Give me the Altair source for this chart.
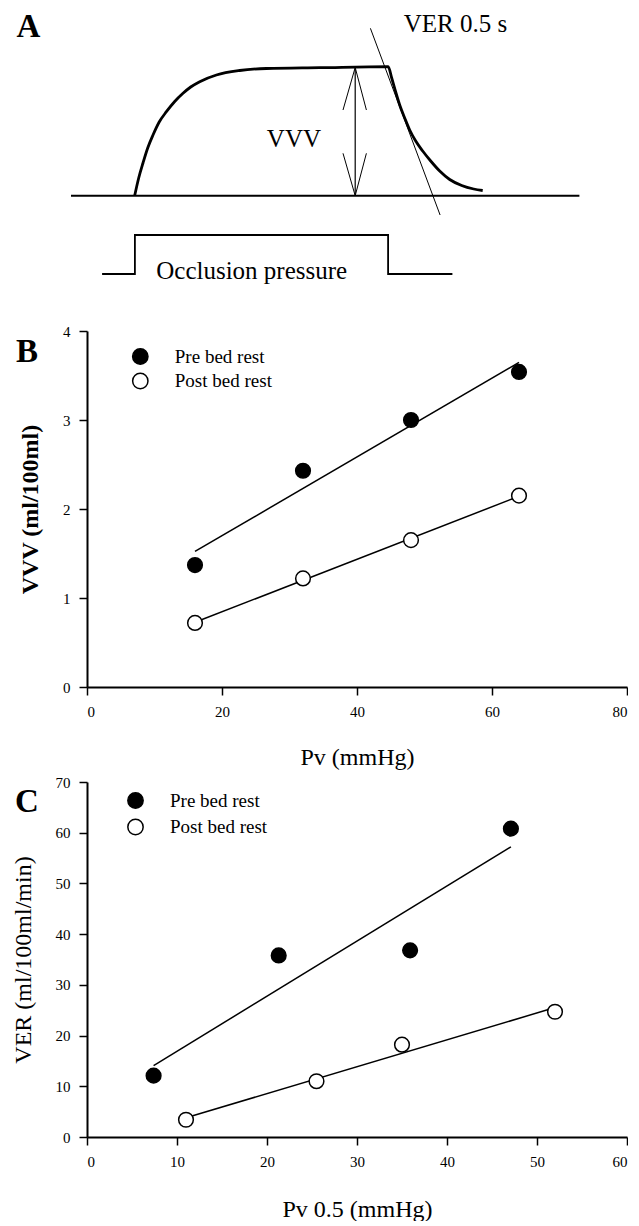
import altair as alt
import pandas as pd

FONT = "Liberation Serif"

# ---------------- Panel B data ----------------
b_pv = [16, 32, 48, 64]
b_pre = [1.37, 2.43, 3.00, 3.54]
b_post = [0.72, 1.22, 1.65, 2.15]
b_xticks = [0, 20, 40, 60, 80]
b_yticks = [0, 1, 2, 3, 4]

# ---------------- Panel C data ----------------
c_pre_x = [7.4, 21.3, 35.9, 47.1]
c_pre_y = [12.1, 35.8, 36.8, 60.8]
c_post_x = [11.0, 25.5, 35.0, 52.0]
c_post_y = [3.4, 11.0, 18.2, 24.7]
c_xticks = [0, 10, 20, 30, 40, 50, 60]
c_yticks = [0, 10, 20, 30, 40, 50, 60, 70]

series = ["Pre bed rest", "Post bed rest"]
letters = ["A", "B", "C"]

# ---------------- Panel A schematic (shape points) ----------------
base_x = [71.3, 579.7]
base_y = [195.7, 195.7]
curve_x = [135, 139, 143.3, 148, 153.3, 159.5, 166.7, 175, 183.3, 191, 200, 216.7, 240, 266.7, 320, 388.5,
           392, 396, 400, 405, 410, 416, 423, 431, 440, 450, 462, 474, 483]
curve_y = [195.5, 178, 163, 148, 135, 122, 111.7, 101.5, 93.3, 87, 81.7, 75, 70.5, 68.5, 67.7, 66.7,
           78, 92, 105, 118, 130, 141, 151, 161, 171, 179.5, 185.5, 189, 190.5]
shaft_x = [355.5, 355.5]
shaft_y = [67.5, 195.7]
head1_x = [343.3, 355.5, 366.7]
head1_y = [110, 67.5, 110]
head2_x = [343.3, 355.5, 366.7]
head2_y = [153.3, 195.7, 153.3]
tan_x = [370.7, 440.4]
tan_y = [28.3, 215]
step_x = [102.4, 135.2, 135.2, 388.4, 388.4, 452.7]
step_y = [274, 274, 235, 235, 274, 274]

a_labels = ["VVV", "VER 0.5 s", "Occlusion pressure"]
a_label_x = [294.2, 455.8, 252]
a_label_y = [146.7, 31.7, 279]

# ---------------- build tables ----------------
def seg_rows(name, xs, ys, w):
    return [{"seg": name, "ord": i, "x": x, "y": y, "w": w} for i, (x, y) in enumerate(zip(xs, ys))]

rows = []
rows += seg_rows("base", base_x, base_y, 2)
rows += seg_rows("shaft", shaft_x, shaft_y, 1.2)
rows += seg_rows("head1", head1_x, head1_y, 1)
rows += seg_rows("head2", head2_x, head2_y, 1)
rows += seg_rows("tangent", tan_x, tan_y, 1)
rows += seg_rows("step", step_x, step_y, 1.8)
a_lines = pd.DataFrame(rows)
a_curve = pd.DataFrame(seg_rows("curve", curve_x, curve_y, 2.8))
a_text = pd.DataFrame({"t": a_labels, "x": a_label_x, "y": a_label_y})

A_TOP = 8
A_H = 310
ax_scale = alt.Scale(domain=[87.3, 627.3], nice=False, zero=False)
ay_scale = alt.Scale(domain=[A_TOP, A_TOP + A_H], nice=False, zero=False, reverse=True)

a_base = alt.Chart(a_lines).mark_line(color="black").encode(
    x=alt.X("x:Q", scale=ax_scale, axis=None),
    y=alt.Y("y:Q", scale=ay_scale, axis=None),
    detail="seg:N",
    order="ord:Q",
    strokeWidth=alt.StrokeWidth("w:Q", scale=None),
)
a_crv = alt.Chart(a_curve).mark_line(color="black", interpolate="monotone", strokeWidth=2.8).encode(
    x=alt.X("x:Q", scale=ax_scale, axis=None),
    y=alt.Y("y:Q", scale=ay_scale, axis=None),
    order="ord:Q",
)
a_txt = alt.Chart(a_text).mark_text(font=FONT, fontSize=25, baseline="alphabetic", align="center", color="black").encode(
    x=alt.X("x:Q", scale=ax_scale, axis=None),
    y=alt.Y("y:Q", scale=ay_scale, axis=None),
    text="t:N",
)
a_letter = alt.Chart(pd.DataFrame({"t": [letters[0]]})).mark_text(
    font=FONT, fontSize=33, fontWeight="bold", baseline="alphabetic", align="center", color="black"
).encode(text="t:N", x=alt.value(28.7 - 87.3), y=alt.value(36.7 - A_TOP))

panel_a = alt.layer(a_base, a_crv, a_txt, a_letter).properties(width=540, height=A_H)

# ---------------- common axis style ----------------
def axis(values, title_weight, title_padding):
    return alt.Axis(
        values=values, format="d", grid=False,
        domainColor="black", domainWidth=2, tickColor="black", tickWidth=1.5, tickSize=8,
        labelFont=FONT, labelFontSize=15, labelColor="black", labelPadding=9,
        titleFont=FONT, titleFontSize=24, titleFontWeight=title_weight, titleColor="black",
        titlePadding=title_padding,
    )

def panel(df, xdom, ydom, xticks, yticks, xtitle, ytitle, ybold, h, legx, legy, rowpad, letter, lx, ly, xtp):
    xa = axis(xticks, "normal", xtp)
    ya = axis(yticks, "bold" if ybold else "normal", 20)
    xs = alt.Scale(domain=xdom, nice=False, zero=False)
    ys = alt.Scale(domain=ydom, nice=False, zero=False)
    fill = alt.Color(
        "series:N",
        scale=alt.Scale(domain=series, range=["black", "white"]),
        legend=alt.Legend(
            title=None, orient="none", legendX=legx, legendY=legy, padding=0,
            symbolType="circle", symbolSize=235, symbolStrokeColor="black", symbolStrokeWidth=1.5,
            symbolOpacity=1, labelFont=FONT, labelFontSize=19, labelColor="black",
            labelOffset=25, rowPadding=rowpad,
        ),
        sort=series,
    )
    base = alt.Chart(df)
    line = base.transform_regression("x", "y", groupby=["series"]).mark_line(
        color="black", strokeWidth=1.5
    ).encode(
        x=alt.X("x:Q", scale=xs, axis=xa, title=xtitle),
        y=alt.Y("y:Q", scale=ys, axis=ya, title=ytitle),
        detail="series:N",
    )
    pts = base.mark_point(shape="circle", filled=True, stroke="black", strokeWidth=1.5,
                          size=215, opacity=1).encode(
        x=alt.X("x:Q", scale=xs),
        y=alt.Y("y:Q", scale=ys),
        fill=fill,
    )
    let = alt.Chart(pd.DataFrame({"t": [letter]})).mark_text(
        font=FONT, fontSize=33, fontWeight="bold", baseline="alphabetic", align="center", color="black"
    ).encode(text="t:N", x=alt.value(lx), y=alt.value(ly))
    return alt.layer(line, pts, let).properties(width=540, height=h)

b_df = pd.DataFrame(
    [{"series": series[0], "x": x, "y": y} for x, y in zip(b_pv, b_pre)]
    + [{"series": series[1], "x": x, "y": y} for x, y in zip(b_pv, b_post)]
)
c_df = pd.DataFrame(
    [{"series": series[0], "x": x, "y": y} for x, y in zip(c_pre_x, c_pre_y)]
    + [{"series": series[1], "x": x, "y": y} for x, y in zip(c_post_x, c_post_y)]
)

panel_b = panel(b_df, [0, 80], [0, 4], b_xticks, b_yticks, "Pv (mmHg)", "VVV (ml/100ml)", True,
                356, 43.8, 16, 1.5, letters[1], 27.2 - 87.3, 361.7 - 331, 26)
panel_c = panel(c_df, [0, 60], [0, 70], c_xticks, c_yticks, "Pv 0.5 (mmHg)", "VER (ml/100ml/min)", False,
                355, 39, 9, 3.5, letters[2], 27.2 - 87.3, 811.5 - 782, 28)

chart = alt.vconcat(panel_a, panel_b, panel_c, spacing=6).resolve_scale(
    fill="independent"
).resolve_legend(fill="independent").properties(
    padding={"left": 3, "top": 0, "right": 0, "bottom": 0}
).configure(font=FONT).configure_view(stroke=None)

chart.save("out.html", embed_options={"renderer": "svg", "actions": False})
